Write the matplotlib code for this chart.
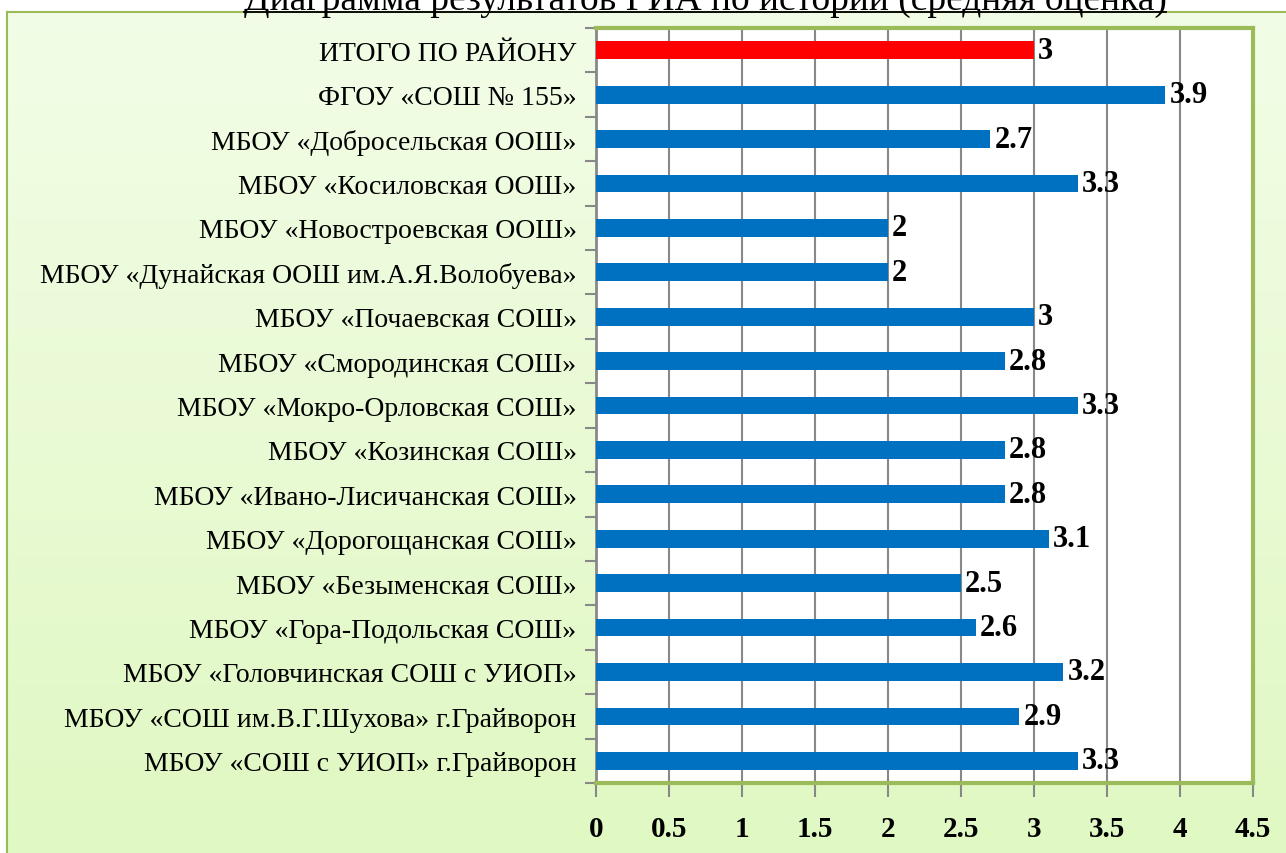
import numpy as np
import matplotlib.pyplot as plt
from matplotlib.lines import Line2D
from matplotlib.colors import LinearSegmentedColormap

# Данные (сверху вниз, как на диаграмме)
schools = [
    'ИТОГО ПО РАЙОНУ',
    'ФГОУ «СОШ № 155»',
    'МБОУ «Добросельская ООШ»',
    'МБОУ «Косиловская ООШ»',
    'МБОУ «Новостроевская ООШ»',
    'МБОУ «Дунайская ООШ им.А.Я.Волобуева»',
    'МБОУ «Почаевская СОШ»',
    'МБОУ «Смородинская СОШ»',
    'МБОУ «Мокро-Орловская СОШ»',
    'МБОУ «Козинская СОШ»',
    'МБОУ «Ивано-Лисичанская СОШ»',
    'МБОУ «Дорогощанская СОШ»',
    'МБОУ «Безыменская СОШ»',
    'МБОУ «Гора-Подольская СОШ»',
    'МБОУ «Головчинская СОШ с УИОП»',
    'МБОУ «СОШ им.В.Г.Шухова» г.Грайворон',
    'МБОУ «СОШ с УИОП» г.Грайворон',
]
scores = [3, 3.9, 2.7, 3.3, 2, 2, 3, 2.8, 3.3, 2.8, 2.8, 3.1, 2.5, 2.6, 3.2, 2.9, 3.3]
x_ticks = [0, 0.5, 1, 1.5, 2, 2.5, 3, 3.5, 4, 4.5]
title = 'Диаграмма результатов ГИА по истории (средняя оценка)'

plt.rcParams['font.family'] = ['Liberation Serif', 'DejaVu Serif']

W, H = 1286, 854
fig = plt.figure(figsize=(W / 100, H / 100), dpi=100)
fig.patch.set_facecolor('white')

# фон области диаграммы (градиент)
bg = fig.add_axes([7 / W, 0, 1 - 7 / W, 1 - 13 / H])
grad = np.linspace(0, 1, 256).reshape(-1, 1)
cmap = LinearSegmentedColormap.from_list('g', ['#F2FDE7', '#E0F8C2'])
bg.imshow(grad, aspect='auto', cmap=cmap, extent=[0, 1, 0, 1], origin='upper')
bg.set_xticks([])
bg.set_yticks([])
for side in ['right', 'bottom']:
    bg.spines[side].set_visible(False)
for side in ['left', 'top']:
    bg.spines[side].set_color('#9BBB59')
    bg.spines[side].set_linewidth(1.5)

ax = fig.add_axes([596 / W, 1 - 784 / H, (1253 - 596) / W, (784 - 29) / H])
ax.set_facecolor('white')

y = np.arange(len(schools))
colors = ['#FF0000'] + ['#0070C0'] * (len(schools) - 1)
ax.barh(y, scores, height=0.4, color=colors, zorder=3)

for yi, v in zip(y, scores):
    ax.annotate(f'{v:g}', (v, yi), xytext=(3, 0), textcoords='offset points',
                ha='left', va='center', fontsize=22, fontweight='bold', zorder=4)

ax.set_xlim(0, 4.5)
ax.set_ylim(len(schools) - 0.5, -0.5)
ax.set_xticks(x_ticks)
ax.set_xticklabels([f'{t:g}' for t in x_ticks], fontsize=21, fontweight='bold')
ax.set_yticks(y)
ax.set_yticklabels(schools, fontsize=20)
ax.set_yticks(np.arange(len(schools) + 1) - 0.5, minor=True)

ax.tick_params(axis='y', which='major', length=0, pad=14)
ax.tick_params(axis='y', which='minor', length=8, width=1.5, color='#888888', direction='out')
ax.tick_params(axis='x', which='major', length=10, width=1.5, color='#888888', direction='out', pad=13)

ax.grid(axis='x', color='#888888', linewidth=1.5, zorder=1)
ax.set_axisbelow(True)

for side in ['top', 'right', 'bottom']:
    ax.spines[side].set_color('#9BBB59')
    ax.spines[side].set_linewidth(3)
ax.spines['left'].set_color('#888888')
ax.spines['left'].set_linewidth(2)

# заголовок (обрезан сверху, с подчёркиванием, как в оригинале)
t = fig.text(705 / W, 1 - 10 / H, title, ha='center', va='baseline', fontsize=27)
fig.canvas.draw()
bb = t.get_window_extent()
fig.add_artist(Line2D([bb.x0 / W, bb.x1 / W], [1 - 12.5 / H, 1 - 12.5 / H],
                      color='black', linewidth=1.3, transform=fig.transFigure))

fig.savefig('out.png', dpi=100)
